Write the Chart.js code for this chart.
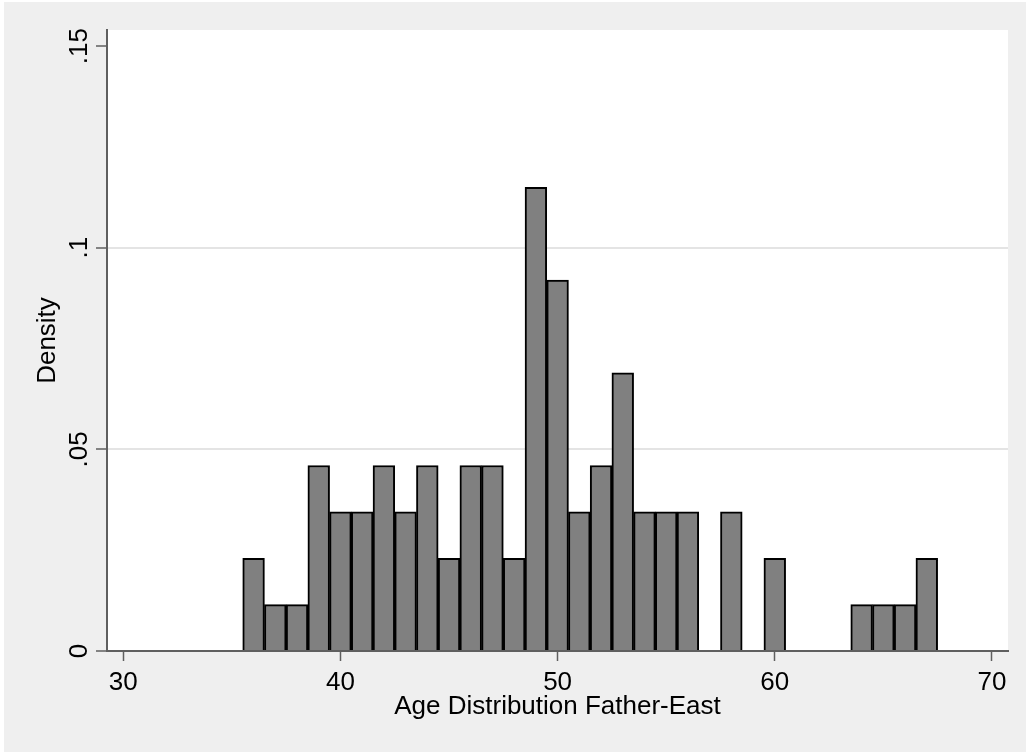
<!DOCTYPE html>
<html>
<head>
<meta charset="utf-8">
<script src="https://cdn.jsdelivr.net/npm/chart.js@4.4.1/dist/chart.umd.min.js"></script>
<style>
  html, body { margin: 0; padding: 0; background: #fff; }
  canvas { display: block; }
</style>
</head>
<body>
<canvas id="hist" width="1026" height="752"></canvas>
<script>
// --- data (bins of width 1, centred on whole ages) ---
const binCenters = [36, 37, 38, 39, 40, 41, 42, 43, 44, 45, 46, 47, 48, 49, 50, 51,
                    52, 53, 54, 55, 56, 57, 58, 59, 60, 61, 62, 63, 64, 65, 66, 67];
const densities  = [0.023, 0.0115, 0.0115, 0.046, 0.0345, 0.0345, 0.046, 0.0345,
                    0.046, 0.023, 0.046, 0.046, 0.023, 0.115, 0.092, 0.0345,
                    0.046, 0.069, 0.0345, 0.0345, 0.0345, 0, 0.0345, 0,
                    0.023, 0, 0, 0, 0.0115, 0.0115, 0.0115, 0.023];
const xTicks = [30, 40, 50, 60, 70];
const yTicks = [0, 0.05, 0.1, 0.15];
const yTickLabels = ['0', '.05', '.1', '.15'];
const gridValues = [0.05, 0.1];

const FONT = 'Arial, "Liberation Sans", sans-serif';
const AXIS_COLOR = '#5f5f5f';

// gray graph region + white plot region
const backdrop = {
    id: 'backdrop',
    beforeDraw(chart) {
        const { ctx, chartArea } = chart;
        ctx.save();
        ctx.fillStyle = '#ffffff';
        ctx.fillRect(0, 0, chart.width, chart.height);
        ctx.fillStyle = '#efefef';
        ctx.fillRect(4, 2, chart.width - 4, chart.height - 2);
        ctx.fillStyle = '#ffffff';
        ctx.fillRect(chartArea.left, chartArea.top,
                     chartArea.right - chartArea.left, chartArea.bottom - chartArea.top);
        ctx.restore();
    }
};

// rotated y tick labels, placed with the y scale
const yLabels = {
    id: 'yLabels',
    afterDraw(chart) {
        const { ctx } = chart;
        const y = chart.scales.y;
        ctx.save();
        ctx.fillStyle = '#000';
        ctx.font = '26px ' + FONT;
        ctx.textAlign = 'center';
        ctx.textBaseline = 'alphabetic';
        yTicks.forEach((v, i) => {
            ctx.save();
            ctx.translate(87, y.getPixelForValue(v));
            ctx.rotate(-Math.PI / 2);
            ctx.fillText(yTickLabels[i], 0, 0);
            ctx.restore();
        });
        ctx.restore();
    }
};

const ctx = document.getElementById('hist').getContext('2d');
new Chart(ctx, {
    type: 'bar',
    data: {
        datasets: [{
            data: binCenters.map((x, i) => ({ x: x, y: densities[i] })),
            backgroundColor: '#808080',
            borderColor: '#000000',
            borderWidth: 2,
            barPercentage: 1,
            categoryPercentage: 1
        }]
    },
    options: {
        responsive: false,
        animation: false,
        layout: { padding: { top: 30, right: 18, left: 0, bottom: 0 } },
        plugins: {
            legend: { display: false },
            tooltip: { enabled: false }
        },
        scales: {
            x: {
                type: 'linear',
                min: 29.25,
                max: 70.74,
                offset: false,
                afterBuildTicks: (scale) => { scale.ticks = xTicks.map(v => ({ value: v })); },
                afterFit: (scale) => { scale.height = 101; },
                grid: {
                    offset: false,
                    drawOnChartArea: false,
                    tickLength: 10,
                    tickColor: AXIS_COLOR,
                    tickWidth: 1.5
                },
                border: { display: true, color: AXIS_COLOR, width: 2 },
                ticks: {
                    color: '#000',
                    font: { family: FONT, size: 26 },
                    padding: 6,
                    maxRotation: 0,
                    callback: (v) => String(v)
                },
                title: {
                    display: true,
                    text: 'Age Distribution Father-East',
                    color: '#000',
                    font: { family: FONT, size: 26 },
                    padding: { top: 0, bottom: 30 }
                }
            },
            y: {
                min: 0,
                max: 0.154,
                afterBuildTicks: (scale) => { scale.ticks = yTicks.map(v => ({ value: v })); },
                afterFit: (scale) => { scale.width = 107; },
                grid: {
                    color: (c) => gridValues.includes(c.tick && c.tick.value) ? '#e4e4e4' : 'rgba(0,0,0,0)',
                    lineWidth: 2,
                    tickLength: 11,
                    tickColor: AXIS_COLOR,
                    tickWidth: 1.5
                },
                border: { display: true, color: AXIS_COLOR, width: 2 },
                ticks: { display: false },
                title: {
                    display: true,
                    text: 'Density',
                    color: '#000',
                    font: { family: FONT, size: 26 },
                    padding: { top: 32, bottom: 0 }
                }
            }
        }
    },
    plugins: [backdrop, yLabels]
});
</script>
</body>
</html>
